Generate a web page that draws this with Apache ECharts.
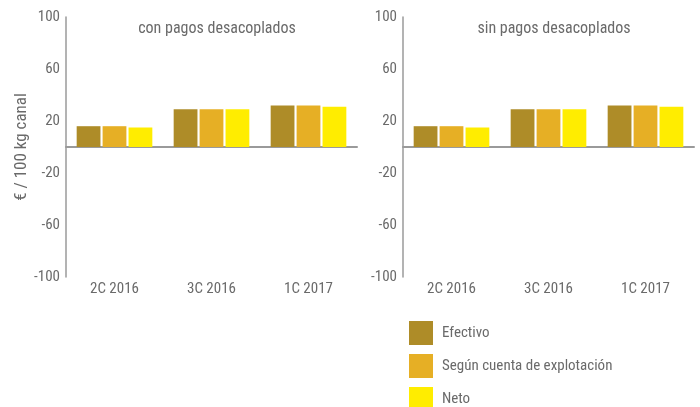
<!DOCTYPE html>
<html>
<head>
<meta charset="utf-8">
<script src="https://cdn.jsdelivr.net/npm/echarts@6/dist/echarts.min.js"></script>
<style>
  html, body { margin: 0; padding: 0; background: #fff; }
  #chart { width: 700px; height: 407px; }
</style>
</head>
<body>
<div id="chart"></div>
<script>
  const categories = ["2C 2016", "3C 2016", "1C 2017"];
  const seriesNames = ["Efectivo", "Según cuenta de explotación", "Neto"];
  const colors = ["#AE8C28", "#E6AF25", "#FFED00"];

  // con pagos desacoplados
  const conEfectivo = [16, 29, 32];
  const conCuenta = [16, 29, 32];
  const conNeto = [15, 29, 31];

  // sin pagos desacoplados
  const sinEfectivo = [16, 29, 32];
  const sinCuenta = [16, 29, 32];
  const sinNeto = [15, 29, 31];

  const panelTitles = ["con pagos desacoplados", "sin pagos desacoplados"];

  const font = "'Roboto Condensed', 'DejaVu Sans Condensed', sans-serif";
  const textColor = "#6a6a6a";

  const chart = echarts.init(document.getElementById("chart"));

  const makeX = (gridIndex) => ({
    type: "category",
    gridIndex,
    data: categories,
    axisLine: { onZero: true, lineStyle: { color: "#9a9a9a", width: 2 } },
    axisTick: { show: false },
    axisLabel: {
      color: textColor,
      fontFamily: font,
      fontSize: 15,
      margin: 5,
    },
    position: "bottom",
  });

  const makeY = (gridIndex, withName) => ({
    type: "value",
    gridIndex,
    min: -100,
    max: 100,
    interval: 40,
    splitLine: { show: false },
    axisLine: { show: true, lineStyle: { color: "#9a9a9a", width: 1.5 } },
    axisTick: { show: false },
    axisLabel: { color: textColor, fontFamily: font, fontSize: 15, margin: 6 },
    name: withName ? "€ / 100 kg canal" : "",
    nameLocation: "middle",
    nameGap: 34,
    nameTextStyle: { color: textColor, fontFamily: font, fontSize: 17 },
  });

  const makeBar = (name, data, i, idx) => ({
    name,
    type: "bar",
    xAxisIndex: idx,
    yAxisIndex: idx,
    data,
    barGap: "9%",
    barCategoryGap: "22%",
    itemStyle: { color: colors[i] },
    emphasis: { disabled: true },
  });

  // one legend per row so the last one may run to the bottom edge
  const legendTops = [321, 354, 387];

  const option = {
    animation: false,
    textStyle: { fontFamily: font },
    title: panelTitles.map((t, i) => ({
      text: t,
      left: i === 0 ? 212 : 549,
      textAlign: "center",
      top: 16,
      textStyle: { color: textColor, fontFamily: font, fontSize: 16, fontWeight: "normal" },
    })),
    legend: seriesNames.map((n, i) => ({
      left: 409,
      top: legendTops[i],
      padding: 0,
      itemWidth: 24,
      itemHeight: 24,
      icon: "rect",
      data: [n],
      textStyle: { color: textColor, fontFamily: font, fontSize: 15, padding: [0, 0, 0, 4] },
    })),
    grid: [
      { left: 66, top: 17, width: 291, height: 260 },
      { left: 403, top: 17, width: 291, height: 260 },
    ],
    xAxis: [makeX(0), makeX(1)],
    yAxis: [makeY(0, true), makeY(1, false)],
    series: [
      makeBar(seriesNames[0], conEfectivo, 0, 0),
      makeBar(seriesNames[1], conCuenta, 1, 0),
      makeBar(seriesNames[2], conNeto, 2, 0),
      makeBar(seriesNames[0], sinEfectivo, 0, 1),
      makeBar(seriesNames[1], sinCuenta, 1, 1),
      makeBar(seriesNames[2], sinNeto, 2, 1),
    ],
  };

  chart.setOption(option);
</script>
</body>
</html>
